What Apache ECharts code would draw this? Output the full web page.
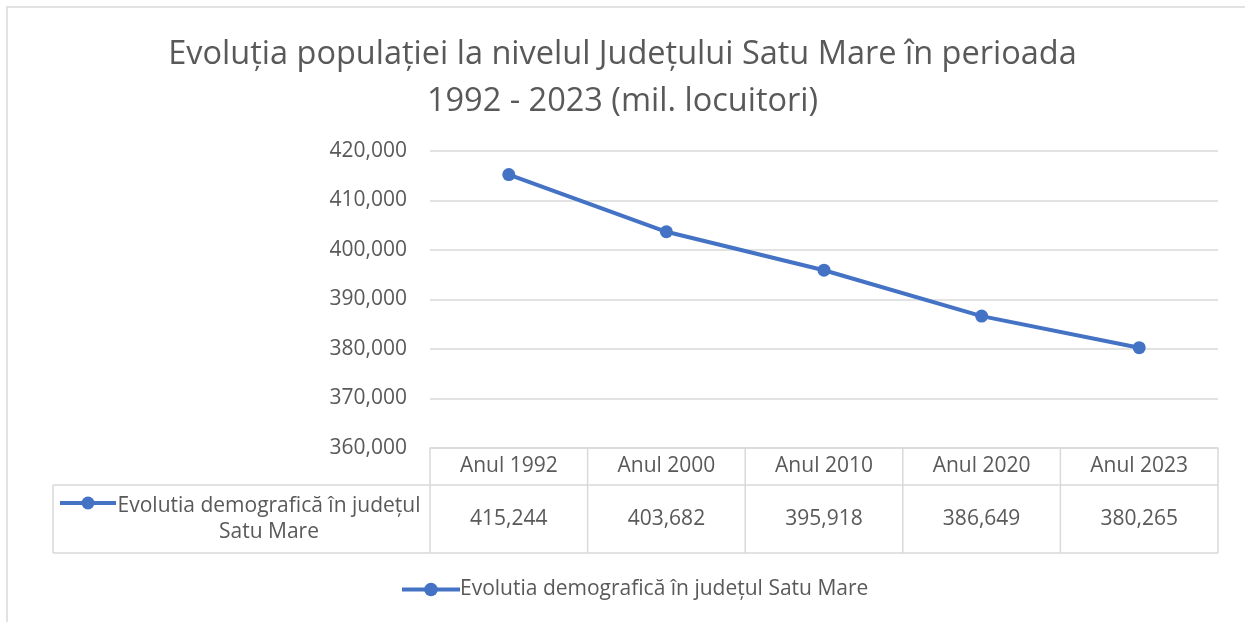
<!DOCTYPE html>
<html>
<head>
<meta charset="utf-8">
<script src="https://cdn.jsdelivr.net/npm/echarts@6/dist/echarts.min.js"></script>
<style>
  html, body { margin: 0; padding: 0; background: #fff; }
  #main { width: 1245px; height: 622px; }
</style>
</head>
<body>
<div id="main"></div>
<script>
// date
var categories = ['Anul 1992', 'Anul 2000', 'Anul 2010', 'Anul 2020', 'Anul 2023'];
var populatie = [415244, 403682, 395918, 386649, 380265];
var seriesName = 'Evolutia demografică în județul Satu Mare';
var yTicks = { min: 360000, max: 420000, interval: 10000 };

var FONT = 'Open Sans';
var GREY = '#595959';
var LINE = '#d9d9d9';
var BLUE = '#4472C4';

function fmt(v) {
  return String(v).replace(/\B(?=(\d{3})+(?!\d))/g, ',');
}

var myChart = echarts.init(document.getElementById('main'));

option = {
  animation: false,
  title: {
    text: 'Evoluția populației la nivelul Județului Satu Mare în perioada\n1992 - 2023 (mil. locuitori)',
    left: 'center',
    top: 31,
    padding: [0, 0, 0, 11],
    textStyle: { fontFamily: FONT, fontSize: 32.5, fontWeight: 'normal', color: GREY, lineHeight: 47 }
  },
  legend: {
    top: 574,
    left: 395,
    itemWidth: 58,
    itemHeight: 17,
    lineStyle: { width: 4 },
    textStyle: { fontFamily: FONT, fontSize: 21, color: GREY, padding: [0, 0, 0, -5] }
  },
  grid: { left: 430, right: 27, top: 151, bottom: 174 },
  xAxis: {
    type: 'category',
    data: categories,
    axisLine: { lineStyle: { color: LINE, width: 1.5 } },
    axisTick: { show: false },
    axisLabel: { margin: 18, verticalAlign: 'middle', fontFamily: FONT, fontSize: 21, color: GREY }
  },
  yAxis: {
    type: 'value',
    min: yTicks.min,
    max: yTicks.max,
    interval: yTicks.interval,
    axisLine: { show: false },
    axisTick: { show: false },
    splitLine: { lineStyle: { color: LINE, width: 1.5 } },
    axisLabel: { margin: 23, fontFamily: FONT, fontSize: 21, color: GREY, formatter: fmt }
  },
  series: [{
    name: seriesName,
    type: 'line',
    data: populatie,
    symbol: 'circle',
    symbolSize: 13,
    itemStyle: { color: BLUE },
    lineStyle: { color: BLUE, width: 4 }
  }]
};

myChart.setOption(option);

// tabelul de date sub grafic
var centers = categories.map(function (c) { return myChart.convertToPixel({ xAxisIndex: 0 }, c); });
var half = (centers[1] - centers[0]) / 2;
var tLeft = 53, tTop = 448, tMid = 485, tBottom = 553;
var colL = centers[0] - half, colR = centers[centers.length - 1] + half;
var els = [];
var ls = { stroke: LINE, lineWidth: 1.5 };

// chenarul graficului
els.push({ type: 'rect', shape: { x: 7, y: 7, width: 1300, height: 700 }, style: { fill: null, stroke: LINE, lineWidth: 1.5 } });

els.push({ type: 'line', shape: { x1: colR, y1: tTop, x2: colR, y2: tBottom }, style: ls });
els.push({ type: 'line', shape: { x1: colL, y1: tTop, x2: colL, y2: tBottom }, style: ls });
els.push({ type: 'line', shape: { x1: tLeft, y1: tMid, x2: colR, y2: tMid }, style: ls });
els.push({ type: 'line', shape: { x1: tLeft, y1: tBottom, x2: colR, y2: tBottom }, style: ls });
els.push({ type: 'line', shape: { x1: tLeft, y1: tMid, x2: tLeft, y2: tBottom }, style: ls });
for (var i = 1; i < centers.length; i++) {
  var bx = centers[i] - half;
  els.push({ type: 'line', shape: { x1: bx, y1: tTop, x2: bx, y2: tBottom }, style: ls });
}
populatie.forEach(function (v, i) {
  els.push({
    type: 'text', x: centers[i], y: (tMid + tBottom) / 2,
    style: { text: fmt(v), align: 'center', verticalAlign: 'middle', font: '21px "Open Sans"', fill: GREY }
  });
});
// eticheta randului cu cheia legendei
els.push({ type: 'line', shape: { x1: 60, y1: 503, x2: 116, y2: 503 }, style: { stroke: BLUE, lineWidth: 4 } });
els.push({ type: 'circle', shape: { cx: 88, cy: 503, r: 6.5 }, style: { fill: BLUE } });
els.push({
  type: 'text', x: 269, y: 519,
  style: { text: 'Evolutia demografică în județul\nSatu Mare', align: 'center', verticalAlign: 'middle',
           font: '21px "Open Sans"', lineHeight: 26, fill: GREY }
});

myChart.setOption({ graphic: els });
</script>
</body>
</html>
